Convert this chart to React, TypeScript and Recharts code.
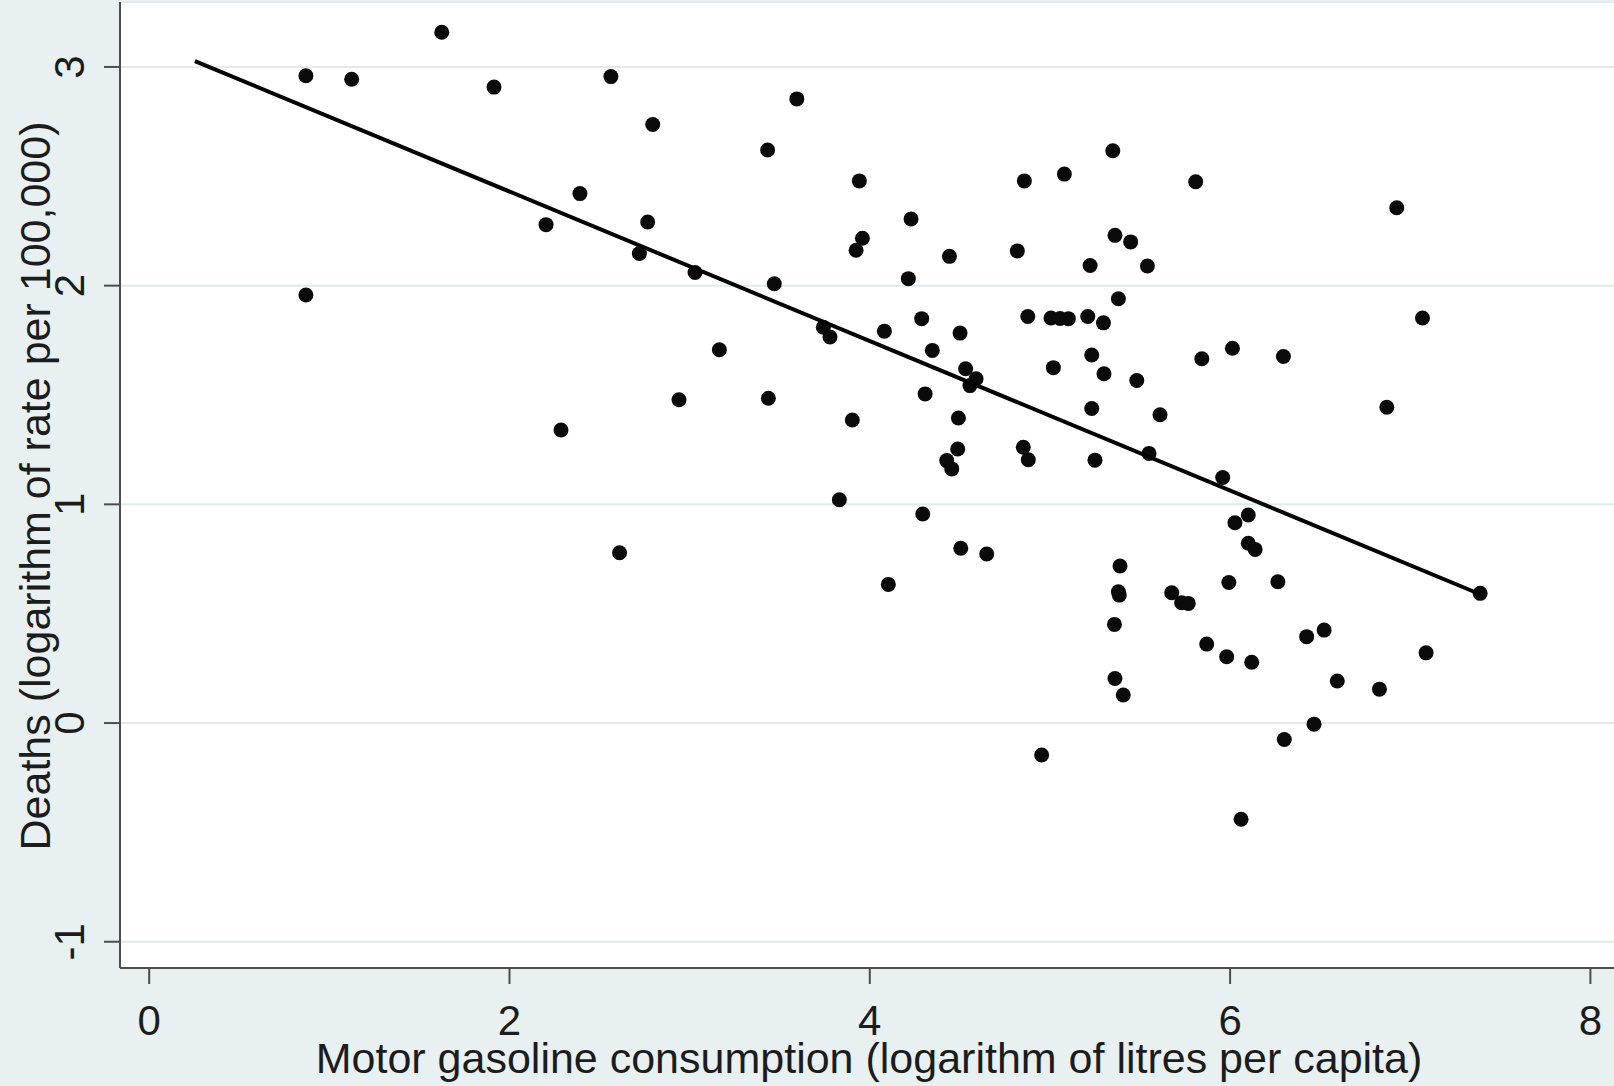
import { ScatterChart, Scatter, XAxis, YAxis, CartesianGrid } from "recharts";

// log gasoline consumption (litres per capita)
const gasolineLog = [
  0.87, 0.87, 1.124, 1.624, 1.914, 2.203, 2.286, 2.391, 2.563, 2.611,
  2.721, 2.767, 2.795, 2.941, 3.03, 3.165, 3.433, 3.437, 3.47, 3.595,
  3.742, 3.779, 3.831, 3.903, 3.924, 3.942, 3.959, 4.081, 4.103, 4.214,
  4.229, 4.288, 4.294, 4.307, 4.347, 4.427, 4.442, 4.455, 4.488, 4.492,
  4.501, 4.505, 4.532, 4.556, 4.59, 4.649, 4.819, 4.852, 4.858, 4.877,
  4.88, 4.954, 5.006, 5.019, 5.056, 5.08, 5.102, 5.21, 5.223, 5.232,
  5.232, 5.25, 5.297, 5.3, 5.349, 5.358, 5.361, 5.361, 5.38, 5.385,
  5.38, 5.389, 5.407, 5.448, 5.482, 5.541, 5.55, 5.611, 5.676, 5.731,
  5.768, 5.809, 5.843, 5.87, 5.959, 5.981, 5.993, 6.013, 6.027, 6.061,
  6.101, 6.101, 6.12, 6.139, 6.265, 6.296, 6.301, 6.425, 6.466, 6.522,
  6.595, 6.829, 6.87, 6.925, 7.068, 7.088, 7.388,
];

// log deaths per 100,000
const deathsLog = [
  2.96, 1.957, 2.944, 3.159, 2.908, 2.279, 1.34, 2.421, 2.956, 0.779,
  2.147, 2.291, 2.737, 1.478, 2.06, 1.707, 2.62, 1.485, 2.009, 2.854,
  1.81, 1.765, 1.021, 1.386, 2.162, 2.479, 2.217, 1.792, 0.634, 2.032,
  2.305, 1.849, 0.956, 1.505, 1.704, 1.2, 2.134, 1.162, 1.253, 1.395,
  1.783, 0.799, 1.62, 1.543, 1.574, 0.773, 2.159, 1.261, 2.479, 1.859,
  1.204, -0.146, 1.852, 1.625, 1.85, 2.51, 1.849, 1.859, 2.092, 1.683,
  1.438, 1.202, 1.83, 1.597, 2.617, 0.451, 2.23, 0.204, 0.6, 0.585,
  1.94, 0.718, 0.128, 2.2, 1.566, 2.09, 1.233, 1.41, 0.596, 0.55,
  0.547, 2.475, 1.666, 0.361, 1.123, 0.303, 0.643, 1.714, 0.916, -0.44,
  0.951, 0.822, 0.278, 0.794, 0.646, 1.676, -0.075, 0.395, -0.005, 0.425,
  0.192, 0.155, 1.444, 2.356, 1.852, 0.321, 0.593,
];

// fitted line end points
const fitX = [0.254, 7.388];
const fitY = [3.027, 0.589];

const xTicks = [0, 2, 4, 6, 8];
const yTicks = [-1, 0, 1, 2, 3];

const points = gasolineLog.map((x, i) => ({ x, y: deathsLog[i] }));
const fitLine = fitX.map((x, i) => ({ x, y: fitY[i] }));

const FONT = "'Liberation Sans', Arial, Helvetica, sans-serif";
const TEXT = "#1c1c1c";
const AXIS = "#4d4d4d";

const XTick = ({ x, y, payload }: any) => (
  <text x={x} y={y + 51} textAnchor="middle" fontSize={42} fontFamily={FONT} fill={TEXT}>
    {payload.value}
  </text>
);

const YTick = ({ x, y, payload }: any) => (
  <text
    x={x - 20}
    y={y}
    transform={`rotate(-90 ${x - 20} ${y})`}
    textAnchor="middle"
    fontSize={42}
    fontFamily={FONT}
    fill={TEXT}
  >
    {payload.value}
  </text>
);

const XTitle = ({ viewBox }: any) => (
  <text
    x={viewBox.x + viewBox.width / 2 + 2}
    y={viewBox.y + 105}
    textAnchor="middle"
    fontSize={43}
    fontFamily={FONT}
    fill={TEXT}
  >
    Motor gasoline consumption (logarithm of litres per capita)
  </text>
);

const YTitle = ({ viewBox }: any) => {
  const cx = viewBox.x + 50;
  const cy = viewBox.y + viewBox.height / 2 + 1;
  return (
    <text
      x={cx}
      y={cy}
      transform={`rotate(-90 ${cx} ${cy})`}
      textAnchor="middle"
      fontSize={43}
      fontFamily={FONT}
      fill={TEXT}
    >
      Deaths (logarithm of rate per 100,000)
    </text>
  );
};

const Dot = ({ cx, cy }: any) => <circle cx={cx} cy={cy} r={7.5} fill="#0a0a0a" />;

export default function App() {
  return (
    <div
      style={{
        position: "absolute",
        left: 0,
        top: 0,
        width: 1614,
        height: 1086,
        background: "#e8f0f2",
      }}
    >
      <ScatterChart width={1614} height={1086} margin={{ top: 2, right: 0, bottom: 0, left: 0 }}>
        <CartesianGrid vertical={false} fill="#ffffff" stroke="#e3eaec" strokeWidth={2} />
        <XAxis
          type="number"
          dataKey="x"
          domain={[-0.162, 8.131]}
          ticks={xTicks}
          allowDataOverflow
          height={118}
          tickSize={16}
          tickMargin={0}
          axisLine={{ stroke: AXIS, strokeWidth: 2 }}
          tickLine={{ stroke: AXIS, strokeWidth: 2 }}
          tick={XTick}
          label={{ content: XTitle }}
        />
        <YAxis
          type="number"
          dataKey="y"
          domain={[-1.12, 3.297]}
          ticks={yTicks}
          allowDataOverflow
          width={120}
          tickSize={16}
          tickMargin={0}
          axisLine={{ stroke: AXIS, strokeWidth: 2 }}
          tickLine={{ stroke: AXIS, strokeWidth: 2 }}
          tick={YTick}
          label={{ content: YTitle }}
        />
        <Scatter data={points} shape={Dot} isAnimationActive={false} />
        <Scatter
          data={fitLine}
          line={{ stroke: "#000000", strokeWidth: 4 }}
          shape={() => <g />}
          isAnimationActive={false}
        />
      </ScatterChart>
    </div>
  );
}
